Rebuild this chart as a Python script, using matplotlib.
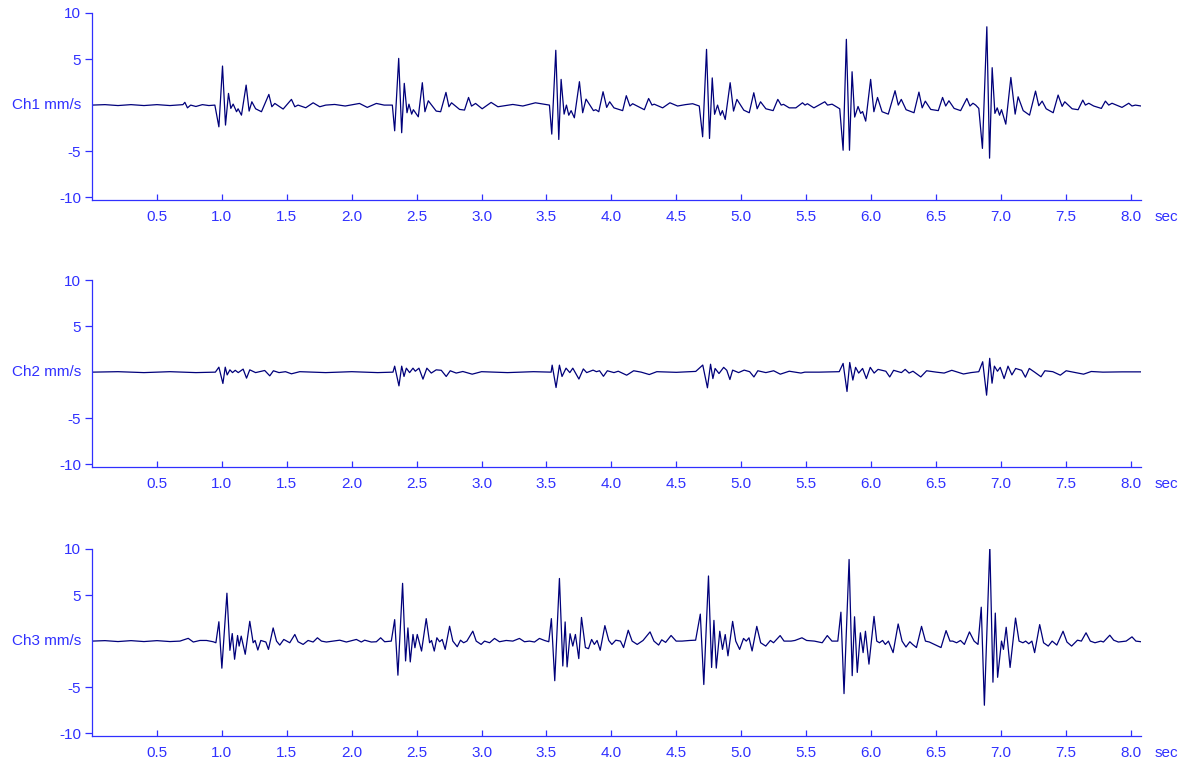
import matplotlib
matplotlib.use("Agg")
import matplotlib.pyplot as plt

# ------------------------------
# data (time in sec, velocity in mm/s)
# ------------------------------
ch1_t = [0, 0.1, 0.2, 0.3, 0.4, 0.5, 0.6, 0.7, 0.715, 0.735, 0.76, 0.8, 0.85, 0.9, 0.946,
         0.977, 1.005, 1.028, 1.051, 1.069, 1.087, 1.113, 1.125, 1.151, 1.187, 1.21, 1.231, 1.26,
         1.305, 1.362, 1.385, 1.408, 1.472, 1.536, 1.562, 1.587, 1.646, 1.703, 1.754, 1.8, 1.869,
         1.95, 2.06, 2.12, 2.19, 2.25, 2.313,
         2.331, 2.362, 2.385, 2.405, 2.426, 2.441, 2.462, 2.475, 2.513, 2.544, 2.564, 2.59, 2.651,
         2.685, 2.726, 2.749, 2.769, 2.831, 2.869, 2.9, 2.923, 2.954, 3.005, 3.074, 3.126, 3.241,
         3.318, 3.415, 3.523,
         3.541, 3.572, 3.595, 3.613, 3.636, 3.654, 3.672, 3.69, 3.715, 3.754, 3.779, 3.805, 3.862,
         3.88, 3.903, 3.936, 3.964, 3.987, 4.02, 4.087, 4.115, 4.143, 4.164, 4.254, 4.287, 4.313,
         4.33, 4.395, 4.451, 4.51, 4.57, 4.626, 4.677,
         4.703, 4.733, 4.756, 4.777, 4.795, 4.818, 4.84, 4.855, 4.877, 4.915, 4.941, 4.967, 5.02,
         5.062, 5.097, 5.123, 5.149, 5.19, 5.246, 5.282, 5.308, 5.326, 5.37, 5.421, 5.472, 5.492,
         5.51, 5.56, 5.644, 5.665, 5.7, 5.759,
         5.785, 5.81, 5.834, 5.854, 5.874, 5.9, 5.92, 5.935, 5.959, 5.997, 6.022, 6.05, 6.085,
         6.133, 6.185, 6.21, 6.233, 6.27, 6.331, 6.369, 6.394, 6.418, 6.46, 6.518, 6.551, 6.575,
         6.6, 6.64, 6.69, 6.738, 6.762, 6.785, 6.806, 6.83,
         6.858, 6.892, 6.913, 6.933, 6.954, 6.972, 6.99, 7.005, 7.038, 7.077, 7.11, 7.133, 7.172,
         7.221, 7.267, 7.292, 7.318, 7.349, 7.403, 7.441, 7.472, 7.492, 7.549, 7.595, 7.631, 7.651,
         7.677, 7.715, 7.774, 7.805, 7.831, 7.856, 7.933, 7.985, 8.01, 8.036, 8.08]
ch1_v = [0, 0.05, -0.05, 0.05, -0.05, 0.05, -0.05, 0.05, 0.3, -0.3, 0, -0.15, 0.05, -0.05, 0,
         -2.36, 4.24, -2.17, 1.27, -0.36, 0.11, -0.72, -0.4, -1.09, 2.17, -0.65, 0.36, -0.4,
         -0.72, 1.16, -0.18, 0.18, -0.43, 0.62, -0.18, 0, -0.29, 0.25, -0.18, 0, 0.07,
         -0.1, 0.18, -0.25, 0.18, 0, 0,
         -2.79, 5.07, -3.0, 2.36, -0.83, 0.1, -0.98, -0.5, -1.27, 2.43, -0.72, 0.47, -0.65,
         -0.72, 1.38, -0.18, 0.25, -0.47, -0.54, 0.83, -0.11, 0.18, -0.4, 0.29, -0.18, 0.07,
         -0.1, 0.25, 0,
         -3.15, 5.95, -3.73, 2.79, -0.98, 0, -1.1, -0.6, -1.38, 2.54, -0.83, 0.65, -0.6,
         -0.5, -0.72, 1.45, -0.25, 0.36, -0.3, -0.6, 1.02, -0.1, 0.15, -0.5, 0.72, 0,
         0.1, -0.3, 0.25, -0.1, 0.05, 0.15, -0.1,
         -3.44, 6.05, -3.62, 2.95, -1.0, 0, -1.1, -0.6, -1.56, 2.43, -0.65, 0.62, -0.55,
         -0.83, 1.34, -0.4, 0.36, -0.4, -0.6, 0.62, 0, 0.08, -0.3, -0.3, 0.25, 0,
         0.15, -0.3, 0.36, 0, 0.1, -0.4,
         -4.9, 7.14, -4.9, 3.62, -1.3, -0.15, -0.9, -0.7, -1.74, 2.79, -0.72, 0.83, -0.72,
         -0.98, 1.56, 0, 0.62, -0.5, -0.83, 1.41, -0.3, 0.43, -0.47, -0.6, 0.83, -0.1,
         0.47, -0.36, -0.6, 0.72, -0.1, 0.2, 0, -0.36,
         -4.7, 8.5, -5.76, 4.06, -0.9, -0.3, -1.1, -0.5, -2.07, 3.0, -0.98, 0.9, -0.6,
         -1.09, 1.52, -0.07, 0.43, -0.4, -0.83, 1.09, -0.14, 0.36, -0.4, -0.5, 0.54, 0,
         0.2, -0.1, -0.36, 0.43, 0, 0.2, -0.25, 0.2, -0.1, 0, -0.1]

ch2_t = [0, 0.2, 0.4, 0.6, 0.8, 0.95,
         0.977, 1.008, 1.026, 1.041, 1.062, 1.082, 1.103, 1.126, 1.164, 1.19, 1.215, 1.26, 1.33,
         1.369, 1.397, 1.44, 1.49, 1.536, 1.6, 1.8, 2.0, 2.2, 2.318,
         2.331, 2.364, 2.385, 2.403, 2.421, 2.446, 2.472, 2.49, 2.518, 2.549, 2.579, 2.613, 2.651,
         2.69, 2.728, 2.759, 2.805, 2.856, 2.928, 3.0, 3.2, 3.4, 3.536,
         3.544, 3.574, 3.6, 3.62, 3.651, 3.68, 3.703, 3.75, 3.784, 3.81, 3.859, 3.885, 3.909,
         3.939, 3.969, 4.02, 4.053, 4.118, 4.172, 4.23, 4.292, 4.35, 4.5, 4.65,
         4.704, 4.74, 4.764, 4.782, 4.799, 4.829, 4.865, 4.889, 4.913, 4.934, 4.98, 5.023, 5.065,
         5.098, 5.128, 5.19, 5.25, 5.301, 5.37, 5.46, 5.49, 5.6, 5.755,
         5.785, 5.815, 5.836, 5.86, 5.881, 5.905, 5.935, 5.964, 5.994, 6.024, 6.054, 6.114, 6.144,
         6.174, 6.234, 6.263, 6.293, 6.323, 6.383, 6.428, 6.503, 6.563, 6.622, 6.712, 6.77, 6.83,
         6.86, 6.89, 6.914, 6.932, 6.95, 6.974, 6.995, 7.025, 7.055, 7.085, 7.114, 7.16, 7.189,
         7.219, 7.26, 7.309, 7.339, 7.4, 7.458, 7.503, 7.577, 7.637, 7.696, 7.786, 7.935, 8.08]
ch2_v = [0, 0.05, -0.05, 0.05, -0.05, 0,
         0.54, -1.23, 0.54, -0.3, 0.25, -0.05, 0.2, -0.05, 0.33, -0.65, 0.25, -0.05, 0.18,
         -0.4, 0.15, -0.05, 0.05, -0.18, 0.05, -0.05, 0.05, -0.05, 0,
         0.65, -1.49, 0.65, -0.47, 0.43, -0.05, 0.43, 0.1, 0.43, -0.76, 0.43, -0.1, 0.25,
         0.2, -0.47, 0.15, -0.1, 0.07, -0.22, 0.05, -0.05, 0.05, 0,
         0.76, -1.67, 0.76, -0.47, 0.43, -0.05, 0.43, -0.75, 0.35, -0.05, 0.22, 0.05, 0.15,
         -0.45, 0.15, -0.05, 0.1, -0.33, 0.15, 0, -0.26, 0.05, -0.02, 0.08,
         0.77, -1.7, 0.86, -0.7, 0.4, -0.15, 0.52, 0.2, -0.8, 0.22, -0.05, 0.22, 0.05,
         -0.52, 0.15, -0.05, 0.15, -0.22, 0.1, -0.1, 0, 0, 0.05,
         0.95, -2.1, 1.05, -0.86, 0.52, -0.1, 0.4, -0.7, 0.52, -0.1, 0.3, 0.1, -0.52,
         0.2, -0.05, 0.3, -0.1, 0.1, -0.52, 0.15, 0, -0.1, 0.2, -0.2, -0.05, 0.05,
         1.13, -2.5, 1.5, -1.2, 0.65, 0.1, 0.52, -0.7, 0.65, -0.3, 0.4, 0.2, -0.55,
         0.4, 0, -0.5, 0.15, 0.05, -0.33, 0.15, -0.05, -0.22, 0.07, 0, 0.03, 0.03]

ch3_t = [0, 0.1, 0.2, 0.3, 0.4, 0.5, 0.6, 0.677, 0.741, 0.78, 0.831, 0.882, 0.933, 0.954,
         0.977, 1.0, 1.039, 1.062, 1.08, 1.098, 1.121, 1.133, 1.149, 1.18, 1.215, 1.241, 1.256,
         1.277, 1.3, 1.339, 1.359, 1.395, 1.421, 1.446, 1.477, 1.523, 1.562, 1.587, 1.626, 1.664,
         1.703, 1.736, 1.767, 1.805, 1.856, 1.908, 1.959, 2.036, 2.074, 2.1, 2.151, 2.19, 2.223,
         2.254, 2.305,
         2.331, 2.356, 2.392, 2.415, 2.433, 2.451, 2.472, 2.487, 2.505, 2.538, 2.574, 2.6, 2.615,
         2.636, 2.656, 2.677, 2.697, 2.72, 2.754, 2.779, 2.813, 2.838, 2.862, 2.887, 2.933, 2.959,
         2.997, 3.023, 3.062, 3.1, 3.138, 3.19, 3.241, 3.292, 3.331, 3.369, 3.408, 3.446, 3.485,
         3.518,
         3.538, 3.564, 3.6, 3.626, 3.644, 3.659, 3.682, 3.703, 3.723, 3.749, 3.77, 3.8, 3.824,
         3.848, 3.869, 3.89, 3.914, 3.95, 3.98, 4.004, 4.034, 4.07, 4.094, 4.13, 4.16, 4.199,
         4.244, 4.298, 4.328, 4.364, 4.388, 4.418, 4.46, 4.499, 4.544, 4.604, 4.649,
         4.685, 4.712, 4.748, 4.772, 4.79, 4.808, 4.835, 4.856, 4.877, 4.898, 4.934, 4.958, 4.988,
         5.018, 5.039, 5.06, 5.084, 5.12, 5.15, 5.189, 5.225, 5.249, 5.3, 5.33, 5.384, 5.414,
         5.468, 5.504, 5.564, 5.624, 5.663, 5.699, 5.744,
         5.768, 5.792, 5.831, 5.855, 5.873, 5.894, 5.918, 5.939, 5.957, 5.984, 6.023, 6.044, 6.065,
         6.089, 6.11, 6.134, 6.17, 6.209, 6.239, 6.269, 6.299, 6.32, 6.35, 6.389, 6.419, 6.449,
         6.488, 6.539, 6.578, 6.608, 6.629, 6.659, 6.689, 6.719, 6.758, 6.794, 6.824,
         6.849, 6.873, 6.915, 6.939, 6.957, 6.975, 7.005, 7.02, 7.041, 7.071, 7.113, 7.14, 7.17,
         7.191, 7.215, 7.239, 7.26, 7.299, 7.329, 7.365, 7.395, 7.431, 7.479, 7.509, 7.545, 7.59,
         7.62, 7.656, 7.689, 7.725, 7.77, 7.79, 7.839, 7.869, 7.905, 7.965, 8.01, 8.04, 8.08]
ch3_v = [0, 0.05, -0.05, 0.05, -0.05, 0.05, -0.05, 0, 0.3, -0.1, 0.07, 0.07, -0.07, -0.18,
         2.1, -2.94, 5.2, -1.0, 0.82, -1.97, 0.61, -0.54, 0.54, -1.43, 2.15, -0.18, 0.07,
         -0.97, 0.07, -0.1, -0.9, 1.43, 0, -0.43, 0.18, -0.18, 0.72, -0.07, -0.36, 0.07,
         -0.1, 0.36, 0, -0.1, 0, 0.1, -0.1, 0.18, -0.1, 0.1, -0.1, -0.07, 0.36,
         -0.07, 0,
         2.33, -3.7, 6.27, -2.15, 1.43, -2.26, 0.72, -0.72, 0.72, -1.08, 2.44, -0.18, 0.07,
         -1.08, 0.36, -0.07, 0.18, -0.9, 1.61, 0, -0.61, 0.1, -0.18, 0, 1.08, 0,
         -0.36, 0, -0.18, 0.29, -0.07, 0.07, 0, 0.29, -0.07, 0, -0.1, 0.29, 0.07,
         -0.07,
         2.44, -4.3, 6.8, -2.7, 2.08, -2.8, 0.8, -0.54, 0.72, -1.9, 2.57, -0.7, -0.82,
         0.18, -0.36, 0.07, -1.0, 1.68, 0.07, -0.36, 0.1, 0, -0.7, 1.18, 0, -0.36,
         0.07, 1.0, 0, -0.43, 0.14, -0.14, 0.61, 0, 0, 0.07, 0.1,
         2.93, -4.71, 7.07, -2.86, 2.25, -2.93, 1.07, -0.9, 0.71, -1.6, 2.14, 0, -0.9,
         0.29, 0, 0.36, -1.07, 1.6, -0.18, -0.54, 0.07, -0.18, 0.6, 0, 0, 0.07,
         0.36, 0.07, 0, -0.18, 0.6, 0, 0,
         3.14, -5.7, 8.86, -3.75, 2.64, -3.4, 0.9, -1.25, 1.07, -2.5, 2.68, 0, -0.18,
         0.07, -0.36, 0, -1.25, 1.86, 0, -0.64, -0.07, -0.36, -0.7, 1.6, 0, -0.1,
         -0.36, -0.7, 1.14, 0, 0, -0.18, 0.07, -0.36, 1.0, 0, -0.36,
         3.68, -6.96, 10.3, -4.46, 3.04, -3.93, 0, -0.9, 1.5, -2.86, 2.5, 0, -0.18,
         0, -0.29, 0, -1.25, 1.79, -0.18, -0.54, 0, -0.43, 1.07, -0.1, -0.54, 0.1,
         0, 0.9, 0, -0.18, 0, -0.1, 0.64, 0.1, -0.1, 0, 0.46, 0, -0.07]

channels = ["Ch1 mm/s", "Ch2 mm/s", "Ch3 mm/s"]
x_ticks = [0.5, 1.0, 1.5, 2.0, 2.5, 3.0, 3.5, 4.0, 4.5, 5.0, 5.5, 6.0, 6.5, 7.0, 7.5, 8.0]
y_ticks = [-10, -5, 5, 10]

# ------------------------------
# drawing
# ------------------------------
plt.rcParams['font.family'] = ['Liberation Sans', 'DejaVu Sans']
axis_col = '#3030ff'
line_col = '#00007a'
fs = 11

fig = plt.figure(figsize=(11.89, 7.63), dpi=100)
bottoms = [0.7379, 0.3879, 0.0354]
series = [(ch1_t, ch1_v), (ch2_t, ch2_v), (ch3_t, ch3_v)]

for name, b, (t, v) in zip(channels, bottoms, series):
    ax = fig.add_axes([0.0774, b, 0.8823, 0.2451])
    ax.plot(t, v, color=line_col, lw=0.9)
    ax.set_xlim(0, 8.08)
    ax.set_ylim(-10.3, 10)
    for s in ['top', 'right']:
        ax.spines[s].set_visible(False)
    for s in ['left', 'bottom']:
        ax.spines[s].set_color(axis_col)
        ax.spines[s].set_linewidth(0.9)
    ax.set_xticks(x_ticks)
    ax.set_xticklabels([f"{x:.1f}" for x in x_ticks])
    ax.set_yticks(y_ticks)
    ax.set_yticklabels([str(y) for y in y_ticks])
    ax.tick_params(axis='x', direction='in', length=4, width=0.9, color=axis_col,
                   labelcolor=axis_col, labelsize=fs, pad=7)
    ax.tick_params(axis='y', direction='out', length=5, width=0.9, color=axis_col,
                   labelcolor=axis_col, labelsize=fs, pad=3)
    # channel name sits where the 0 label would be
    ax.annotate(name, xy=(0, 0), xycoords=('axes fraction', 'data'),
                xytext=(-8, 0), textcoords='offset points',
                ha='right', va='center', color=axis_col, fontsize=fs)
    ax.annotate('sec', xy=(1, 0), xycoords='axes fraction',
                xytext=(10, -7), textcoords='offset points',
                ha='left', va='top', color=axis_col, fontsize=fs)

fig.savefig('out.png', dpi=100)
